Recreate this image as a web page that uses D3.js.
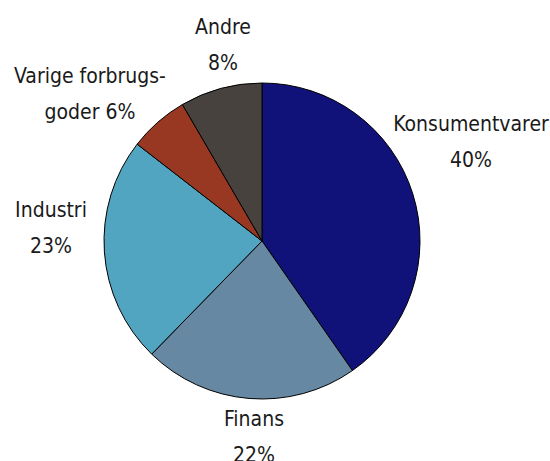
<!DOCTYPE html>
<html>
<head>
<meta charset="utf-8">
<script src="https://cdn.jsdelivr.net/npm/d3@7"></script>
<style>
  body { margin: 0; background: #fff; }
  text { font-family: "Liberation Sans Narrow", "DejaVu Sans Condensed", sans-serif; font-size: 21px; fill: #1a1a1a; }
</style>
</head>
<body>
<svg id="chart"></svg>
<script>
const sectors = ["Konsumentvarer", "Finans", "Industri", "Varige forbrugsgoder", "Andre"];
const shares = [40.3, 22.0, 23.2, 6.1, 8.4];
const labelLines = [
  ["Konsumentvarer", "40%"],
  ["Finans", "22%"],
  ["Industri", "23%"],
  ["Varige forbrugs-", "goder 6%"],
  ["Andre", "8%"]
];
const colors = ["#10127a", "#6688a2", "#52a5c0", "#983822", "#48423f"];

const width = 550, height = 461;
const cx = 262, cy = 241, radius = 158;
// label anchors (first-line baseline), relative to pie center
const labelAt = [[209, -110], [-8, 185], [-211, -24], [-172, -158], [-39, -207]];
const lineGap = 36;

const svg = d3.select("#chart").attr("width", width).attr("height", height);
const g = svg.append("g").attr("transform", `translate(${cx}, ${cy})`);

const pie = d3.pie().sort(null).value((d, i) => shares[i]);
const arc = d3.arc().innerRadius(0).outerRadius(radius);

g.selectAll(".slice").data(pie(sectors)).enter().append("path").attr("class", "slice")
  .attr("d", arc).attr("fill", (d, i) => colors[i]).attr("stroke", "#000").attr("stroke-width", 1);

const labels = g.selectAll(".lbl").data(labelLines).enter().append("text").attr("class", "lbl")
  .attr("text-anchor", "middle")
  .attr("transform", (d, i) => `translate(${labelAt[i][0]}, ${labelAt[i][1]})`);
labels.selectAll("tspan").data((d) => d).enter().append("tspan")
  .attr("x", 0).attr("y", (d, j) => j * lineGap).text((d) => d);
</script>
</body>
</html>
